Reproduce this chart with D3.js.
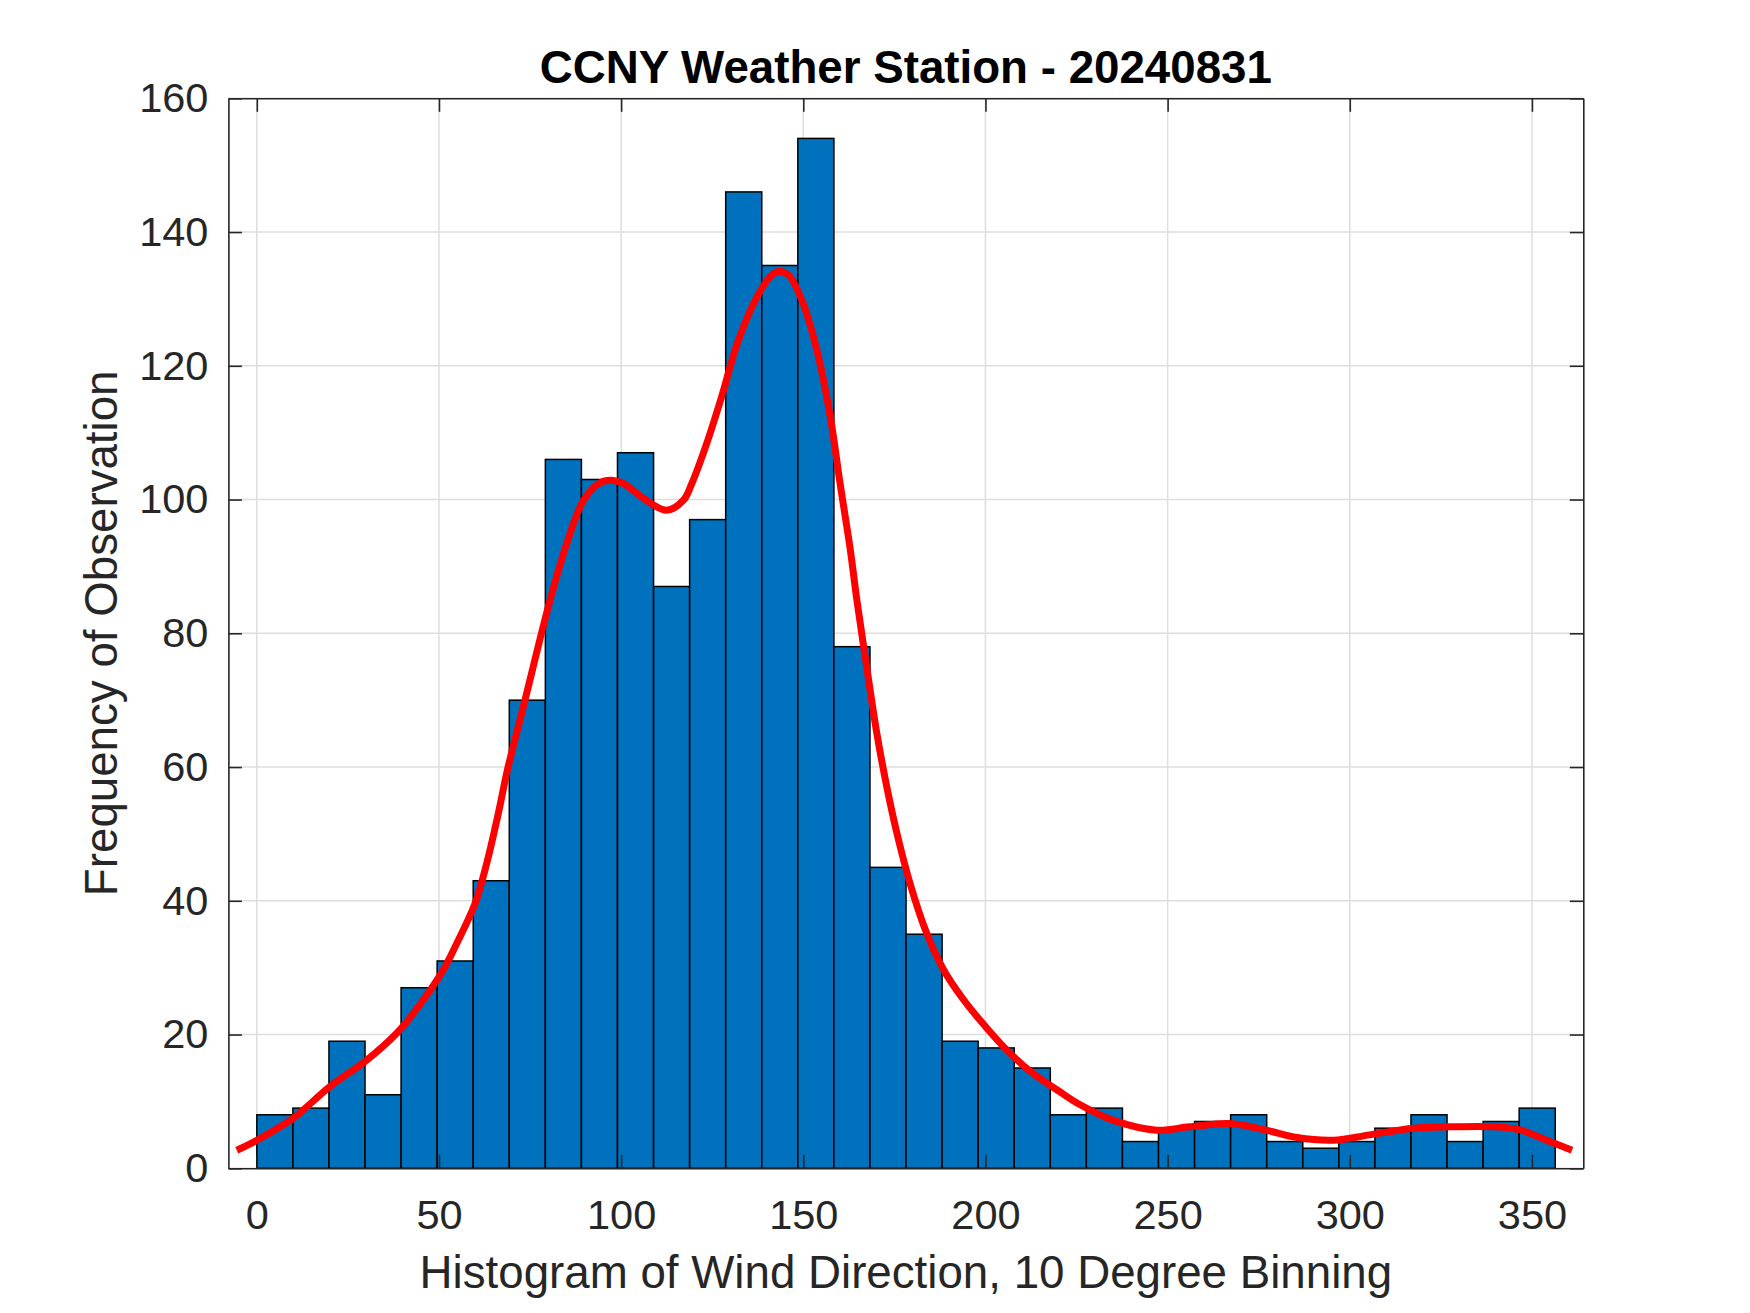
<!DOCTYPE html>
<html>
<head>
<meta charset="utf-8">
<script src="https://cdn.jsdelivr.net/npm/d3@7"></script>
<style>
  body { margin: 0; background: #fff; }
  svg { display: block; font-family: "Liberation Sans", Arial, Helvetica, sans-serif; }
</style>
</head>
<body>
<script>
// histogram bins (36 bins, width 9.9 deg)
var binEdges = [0, 9.9, 19.8, 29.7, 39.6, 49.5, 59.4, 69.3, 79.2, 89.1, 99, 108.9,
    118.8, 128.7, 138.6, 148.5, 158.4, 168.3, 178.2, 188.1, 198, 207.9, 217.8, 227.7,
    237.6, 247.5, 257.4, 267.3, 277.2, 287.1, 297, 306.9, 316.8, 326.7, 336.6, 346.5, 356.4];
var binCounts = [8, 9, 19, 11, 27, 31, 43, 70, 106, 103, 107, 87, 97, 146, 135, 154,
    78, 45, 35, 19, 18, 15, 8, 9, 4, 6, 7, 8, 4, 3, 4, 6, 8, 4, 7, 9];

// red fitted curve
var fitX = [-5.5, 0, 10, 20, 30.2, 38.4, 43, 51.2, 55.3, 59.9, 63.1, 66.3, 68.8, 73.6, 80.5,
    85.1, 89.7, 94.2, 97, 100.6, 106.1, 112.5, 117.1, 119.4, 123.5, 127.6, 131.9, 136.8,
    140.9, 143.2, 145.9, 149.6, 153.7, 157.4, 160.1, 162.9, 164.7, 167.4, 170.2, 172.9, 175.7,
    179.3, 183.9, 188.5, 194, 200, 206, 213, 220, 226, 235, 247, 256, 267, 277, 285.5,
    295.5, 305.5, 317.5, 327, 340, 347, 354, 361];
var fitY = [2.7, 4.2, 7.5, 12.2, 16.2, 20.2, 23.2, 29.7, 34.1, 39.6, 45.6, 53.1, 59.6, 70, 85.0,
    93.5, 99.9, 102.5, 102.9, 102.4, 100.2, 98.4, 99.9, 102.4, 108.4, 115.4, 123.4, 129.8,
    133.3, 134.1, 133.6, 129.8, 122.4, 112.4, 102.4, 92.5, 85.0, 75.0, 65.0, 57.1, 50.1,
    42.6, 35.1, 29.7, 25.2, 21.2, 17.6, 14.2, 11.6, 9.5, 7.2, 5.7, 6.2, 6.7, 5.7, 4.6,
    4.2, 5.0, 6.0, 6.2, 6.2, 5.7, 4.2, 2.7];

var xTicks = [0, 50, 100, 150, 200, 250, 300, 350];
var yTicks = [0, 20, 40, 60, 80, 100, 120, 140, 160];

var titleText = "CCNY Weather Station - 20240831";
var xLabelText = "Histogram of Wind Direction, 10 Degree Binning";
var yLabelText = "Frequency of Observation";

// canvas
var W = 1750, H = 1313;
var margin = { top: 98.3, right: 166.7, bottom: 144.7, left: 228.4 },
    width = W - margin.left - margin.right,
    height = H - margin.top - margin.bottom;

var svg = d3.select("body").append("svg")
    .attr("width", W)
    .attr("height", H);

svg.append("rect").attr("width", W).attr("height", H).attr("fill", "#fff");

var g = svg.append("g")
    .attr("transform", "translate(" + margin.left + "," + margin.top + ")");

var xScale = d3.scaleLinear().domain([-7.8, 364.1]).range([0, width]);
var yScale = d3.scaleLinear().domain([0, 160]).range([height, 0]);

var axisColor = "#262626";
var tickLen = 13.5;

// grid lines (behind the bars)
g.append("g").selectAll("line.gx")
    .data(xTicks).enter().append("line")
    .attr("x1", function(d) { return xScale(d); })
    .attr("x2", function(d) { return xScale(d); })
    .attr("y1", 0).attr("y2", height)
    .attr("stroke", "#dedede").attr("stroke-width", 1.5);

g.append("g").selectAll("line.gy")
    .data(yTicks).enter().append("line")
    .attr("y1", function(d) { return yScale(d); })
    .attr("y2", function(d) { return yScale(d); })
    .attr("x1", 0).attr("x2", width)
    .attr("stroke", "#dedede").attr("stroke-width", 1.5);

// bars
var bins = binCounts.map(function(c, i) {
    return { x0: binEdges[i], x1: binEdges[i + 1], count: c };
});

g.append("g").selectAll("rect")
    .data(bins).enter().append("rect")
    .attr("x", function(d) { return xScale(d.x0); })
    .attr("width", function(d) { return xScale(d.x1) - xScale(d.x0); })
    .attr("y", function(d) { return yScale(d.count); })
    .attr("height", function(d) { return yScale(0) - yScale(d.count); })
    .attr("fill", "#0072BD")
    .attr("stroke", "#000")
    .attr("stroke-width", 1.5);

// fitted curve
var fitData = fitX.map(function(v, i) { return [v, fitY[i]]; });
var fitLine = d3.line()
    .x(function(d) { return xScale(d[0]); })
    .y(function(d) { return yScale(d[1]); })
    .curve(d3.curveCatmullRom);

g.append("path")
    .datum(fitData)
    .attr("d", fitLine)
    .attr("fill", "none")
    .attr("stroke", "#ff0000")
    .attr("stroke-width", 7)
    .attr("stroke-linejoin", "round");

// axes, ticks pointing inward like the original
function styleAxis(sel) {
    sel.select(".domain").attr("stroke", axisColor).attr("stroke-width", 1.6);
    sel.selectAll(".tick line").attr("stroke", axisColor).attr("stroke-width", 1.6);
    sel.selectAll(".tick text")
        .attr("fill", axisColor)
        .style("font-size", "41.5px")
        .style("font-family", "'Liberation Sans', Arial, sans-serif");
}

g.append("g")
    .attr("transform", "translate(0," + height + ")")
    .call(d3.axisBottom(xScale).tickValues(xTicks).tickSizeInner(-tickLen)
        .tickSizeOuter(0).tickPadding(31))
    .call(styleAxis);

g.append("g")
    .call(d3.axisTop(xScale).tickValues(xTicks).tickSizeInner(-tickLen)
        .tickSizeOuter(0).tickFormat(""))
    .call(styleAxis);

g.append("g")
    .call(d3.axisLeft(yScale).tickValues(yTicks).tickSizeInner(-tickLen)
        .tickSizeOuter(0).tickPadding(20))
    .call(styleAxis);

g.append("g")
    .attr("transform", "translate(" + width + ",0)")
    .call(d3.axisRight(yScale).tickValues(yTicks).tickSizeInner(-tickLen)
        .tickSizeOuter(0).tickFormat(""))
    .call(styleAxis);

// title and labels
svg.append("text")
    .attr("x", margin.left + width / 2)
    .attr("y", 83.3)
    .attr("text-anchor", "middle")
    .style("font-size", "45.7px")
    .style("font-weight", "bold")
    .attr("fill", "#000")
    .text(titleText);

svg.append("text")
    .attr("x", margin.left + width / 2)
    .attr("y", 1288.3)
    .attr("text-anchor", "middle")
    .style("font-size", "45.7px")
    .attr("fill", axisColor)
    .text(xLabelText);

svg.append("text")
    .attr("transform", "translate(116.7," + (margin.top + height / 2) + ") rotate(-90)")
    .attr("text-anchor", "middle")
    .style("font-size", "45.7px")
    .attr("fill", axisColor)
    .text(yLabelText);
</script>
</body>
</html>
